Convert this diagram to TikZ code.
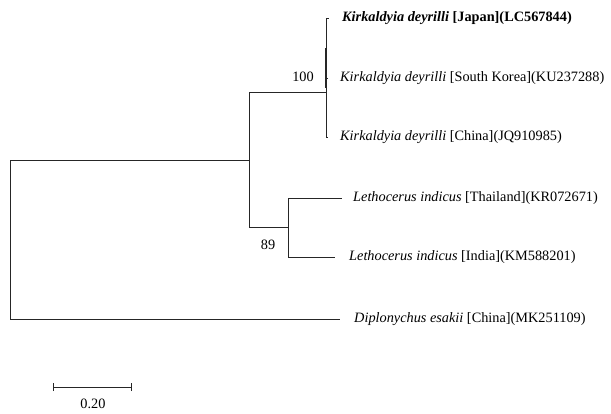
\documentclass[tikz,border=0pt]{standalone}
\usepackage{fontspec}
\setmainfont{Liberation Serif}
\begin{document}
\begin{tikzpicture}[x=1pt,y=-1pt,
  br/.style={line width=1pt,draw=black!85},
  tip/.style={anchor=west,inner sep=0pt,font=\fontsize{14.3}{16}\selectfont},
  bs/.style={inner sep=0pt,font=\fontsize{14.3}{16}\selectfont}]
\useasboundingbox (0,0) rectangle (611,413);
% coordinates
\coordinate (root) at (10,160);
\coordinate (rootb) at (10,319);
\coordinate (nA) at (249,160);
\coordinate (nAt) at (249,92);
\coordinate (nAb) at (249,227);
\coordinate (nK) at (326,92);
\coordinate (nKt) at (326,18);
\coordinate (nKb) at (326,137);
\coordinate (tJ) at (329,18);
\coordinate (tS) at (328,78);
\coordinate (tC) at (328,137);
\coordinate (nL) at (288,227);
\coordinate (nLt) at (288,198);
\coordinate (nLb) at (288,257);
\coordinate (tT) at (342,198);
\coordinate (tI) at (335,257);
\coordinate (tD) at (340,319);
\coordinate (kS) at (326,78);
\coordinate (kA) at (326,48);
\coordinate (kB) at (326,88);
% branches
\draw[br] (rootb) -- (root) -- (nA);
\draw[br] (nAt) -- (nAb);
\draw[br] (nAt) -- (nK);
\draw[br] (nKt) -- (nKb);
\draw[line width=1.8pt,draw=black!85] (kA) -- (kB);
\draw[br] (nKt) -- (tJ);
\draw[br] (kS) -- (tS);
\draw[br] (nKb) -- (tC);
\draw[br] (nAb) -- (nL);
\draw[br] (nLt) -- (nLb);
\draw[br] (nLt) -- (tT);
\draw[br] (nLb) -- (tI);
\draw[br] (rootb) -- (tD);
% labels
\node[tip] (lJ) at (342,18) {\bfseries\itshape Kirkaldyia deyrilli\upshape\ [Japan](LC567844)};
\node[tip] (lS) at (340,78) {\itshape Kirkaldyia deyrilli\upshape\ [South Korea](KU237288)};
\node[tip] (lC) at (340,137) {\itshape Kirkaldyia deyrilli\upshape\ [China](JQ910985)};
\node[tip] (lT) at (353,198) {\itshape Lethocerus indicus\upshape\ [Thailand](KR072671)};
\node[tip] (lI) at (349,257) {\itshape Lethocerus indicus\upshape\ [India](KM588201)};
\node[tip] (lD) at (354,319) {\itshape Diplonychus esakii\upshape\ [China](MK251109)};
\node[bs] (b100) at (303,77) {100};
\node[bs] (b89) at (268,245) {89};
% scale bar
\coordinate (sL) at (53,387);
\coordinate (sR) at (131,387);
\draw[br] (sL) -- (sR);
\draw[br] ([yshift=-4]sL) -- ([yshift=4]sL);
\draw[br] ([yshift=-4]sR) -- ([yshift=4]sR);
\node[bs] (sc) at (93,404) {0.20};
\end{tikzpicture}
\end{document}
